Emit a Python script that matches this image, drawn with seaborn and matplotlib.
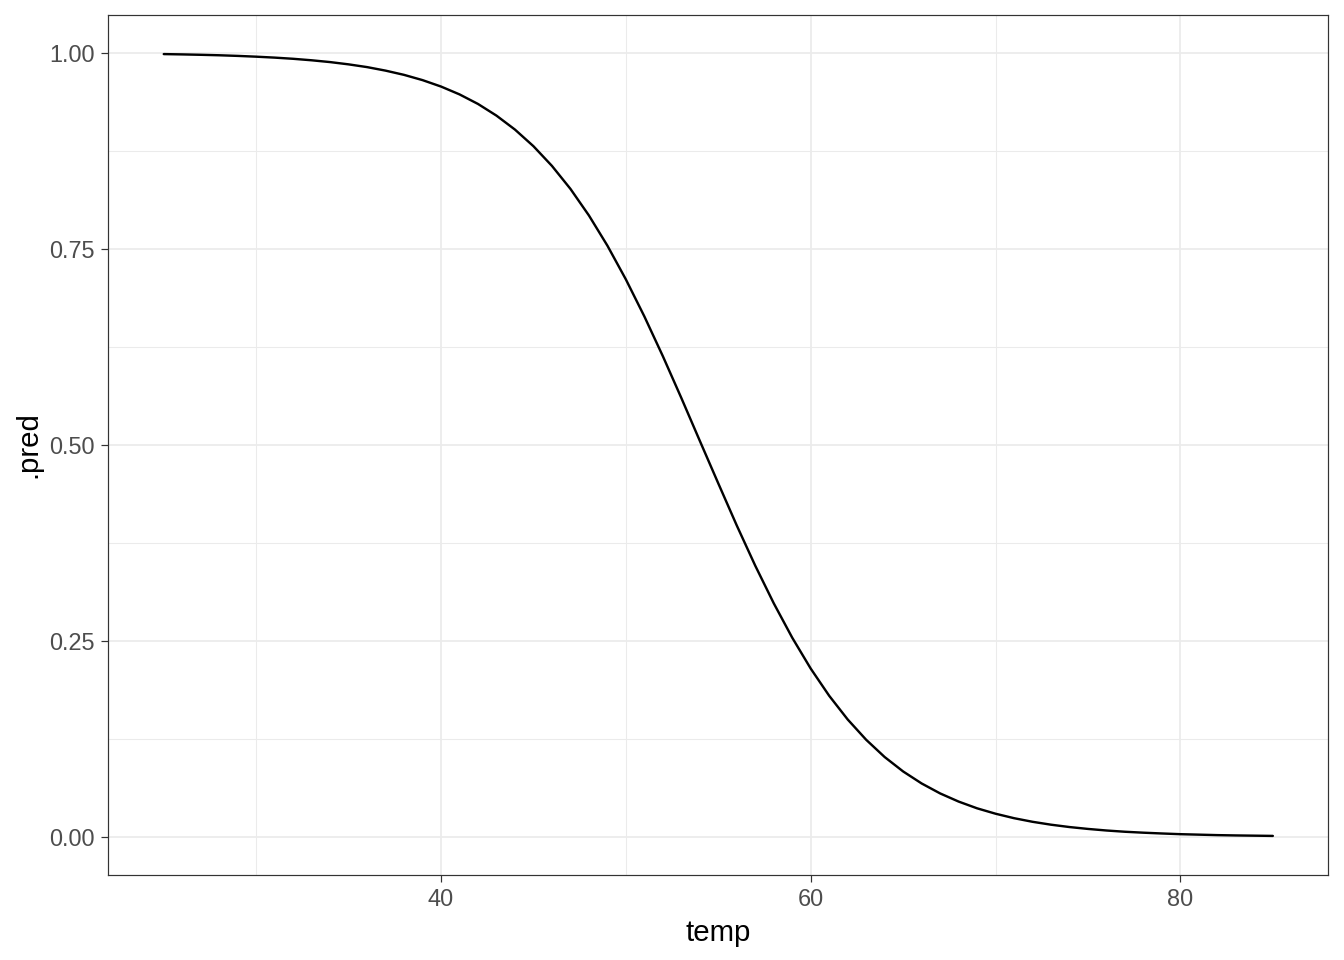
import pandas as pd
import matplotlib
matplotlib.use("Agg")
import matplotlib.pyplot as plt
from matplotlib.ticker import FixedLocator
import seaborn as sns

# --- DATA ---
temp = list(range(25, 86))
pred = [
    0.9983, 0.9979, 0.9974, 0.9968, 0.9960, 0.9950, 0.9938, 0.9923, 0.9904, 0.9881,
    0.9852, 0.9817, 0.9772, 0.9718, 0.9651, 0.9569, 0.9469, 0.9347, 0.9198, 0.9020,
    0.8808, 0.8557, 0.8264, 0.7925, 0.7540, 0.7109, 0.6637, 0.6130, 0.5597, 0.5050,
    0.4507, 0.3970, 0.3457, 0.2978, 0.2539, 0.2145, 0.1798, 0.1496, 0.1237, 0.1017,
    0.0833, 0.0680, 0.0553, 0.0449, 0.0363, 0.0294, 0.0237, 0.0191, 0.0154, 0.0124,
    0.0100, 0.0080, 0.0064, 0.0052, 0.0042, 0.0033, 0.0027, 0.0021, 0.0017, 0.0014,
    0.0011,
]
x_ticks = [40, 60, 80]
x_minor = [30, 50, 70]
y_ticks = [0.00, 0.25, 0.50, 0.75, 1.00]
y_minor = [0.125, 0.375, 0.625, 0.875]
y_tick_labels = ["0.00", "0.25", "0.50", "0.75", "1.00"]

df = pd.DataFrame({"temp": temp, ".pred": pred})

sns.set_theme(style="white")
plt.rcParams['font.family'] = ['Liberation Sans', 'DejaVu Sans']

# 7x5 in at 192 dpi -> 1344x960
fig = plt.figure(figsize=(7, 5), dpi=192)
ax = fig.add_axes([108.3 / 1344, 1 - 875 / 960, 1220 / 1344, 860 / 960])

sns.lineplot(data=df, x="temp", y=".pred", color="black", linewidth=0.9, ax=ax, zorder=3)

# ggplot-style 5% expansion
xr = max(temp) - min(temp)
yr = max(pred) - min(pred)
ax.set_xlim(min(temp) - 0.05 * xr, max(temp) + 0.05 * xr)
ax.set_ylim(min(pred) - 0.05 * yr, max(pred) + 0.05 * yr)
ax.xaxis.set_major_locator(FixedLocator(x_ticks))
ax.xaxis.set_minor_locator(FixedLocator(x_minor))
ax.yaxis.set_major_locator(FixedLocator(y_ticks))
ax.yaxis.set_minor_locator(FixedLocator(y_minor))
ax.set_yticklabels(y_tick_labels)

# theme_bw look
ax.grid(which="major", color="#EBEBEB", linewidth=0.65)
ax.grid(which="minor", color="#EBEBEB", linewidth=0.4)
ax.set_axisbelow(True)
for s in ax.spines.values():
    s.set_color("#333333")
    s.set_linewidth(0.45)
ax.tick_params(which="major", length=2.75, width=0.45, color="#333333",
               labelsize=8.8, labelcolor="#4D4D4D", pad=2.2,
               bottom=True, left=True)
ax.tick_params(which="minor", length=0)

ax.set_xlabel("temp", fontsize=11, color="black", labelpad=2.75)
ax.set_ylabel(".pred", fontsize=11, color="black", labelpad=2.75)

fig.savefig("out.png", dpi=192, facecolor="white")
